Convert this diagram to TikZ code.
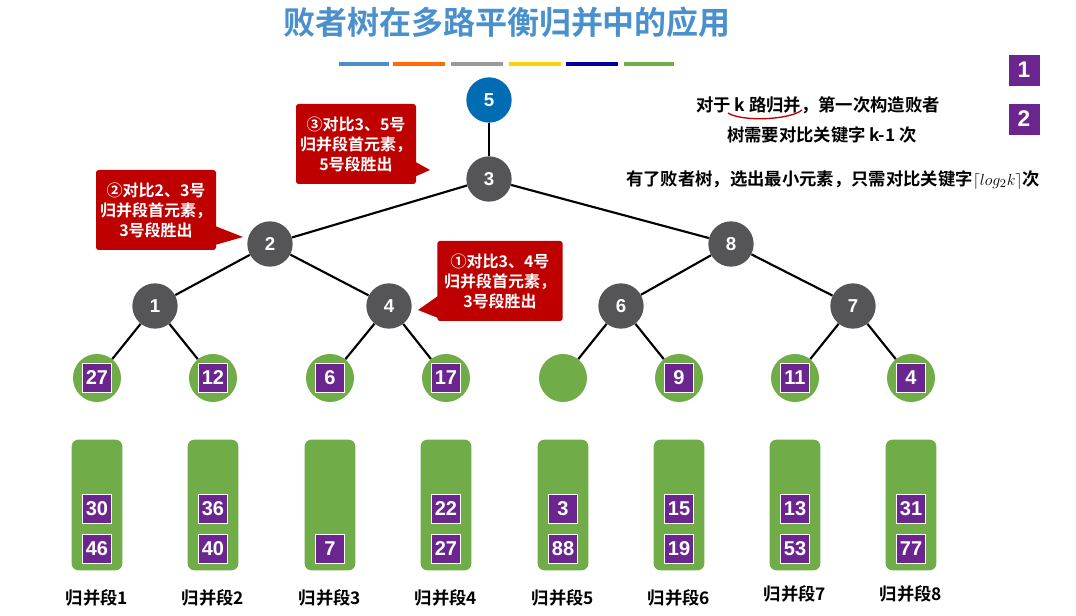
\documentclass[tikz,border=0pt]{standalone}
\usepackage{fontspec}
\setmainfont{Liberation Sans}
\newfontfamily\cjk{Noto Sans CJK SC}[BoldFont={Noto Sans CJK SC Bold}]
\usetikzlibrary{calc}
\definecolor{ttl}{RGB}{74,144,205}
\definecolor{gnode}{RGB}{85,85,88}
\definecolor{bnode}{RGB}{0,108,180}
\definecolor{grn}{RGB}{112,172,72}
\definecolor{pur}{RGB}{106,38,142}
\definecolor{rd}{RGB}{190,0,0}
\begin{document}
\begin{tikzpicture}[x=0.75pt,y=-0.75pt,font=\cjk\bfseries,
  tn/.style={circle,fill=gnode,minimum size=34pt,inner sep=0,text=white,font=\rmfamily\bfseries\fontsize{14}{14}\selectfont},
  lf/.style={circle,fill=grn,minimum size=36pt,inner sep=0},
  sq/.style={fill=pur,draw=white,line width=0.5pt,minimum size=22pt,inner sep=0,text=white,font=\rmfamily\bfseries\fontsize{15}{15}\selectfont},
  seg/.style={fill=grn,rounded corners=5pt,minimum width=38pt,minimum height=98pt,inner sep=0},
  ed/.style={line width=1.6pt},
  cb/.style={fill=rd,rounded corners=2pt,text=white,align=center,inner sep=3pt,font=\cjk\bfseries\fontsize{12}{15}\selectfont},
  lb/.style={font=\cjk\bfseries\fontsize{13}{13}\selectfont}]
\useasboundingbox (0,0) rectangle (1076,616);
\fill[white] (0,0) rectangle (1076,616);
\node[text=ttl,font=\cjk\bfseries\fontsize{24}{24}\selectfont] (title) at (507,22) {败者树在多路平衡归并中的应用};
\foreach \a/\b/\c in {339/389/ttl,393/445/orange!85!red,451/503/gray!80,509/561/yellow!70!orange,566/618/blue!60!black,624/674/grn}
  \fill[\c] (\a,62) rectangle (\b,66);
% tree
\node[tn,fill=bnode] (r) at (489,100) {5};
\node[tn] (n3) at (489,179) {3};
\node[tn] (n2) at (270,244) {2};
\node[tn] (n8) at (731,244) {8};
\node[tn] (n1) at (155,306) {1};
\node[tn] (n4) at (389,306) {4};
\node[tn] (n6) at (621,306) {6};
\node[tn] (n7) at (853,306) {7};
\foreach \i/\x in {1/97,2/213,3/330,4/446,5/563,6/679,7/795,8/911}{
  \node[lf] (l\i) at (\x,378) {};
  \node[seg] (s\i) at (\x,505) {};
}
\draw[ed] (r)--(n3); \draw[ed] (n3)--(n2); \draw[ed] (n3)--(n8);
\draw[ed] (n2)--(n1); \draw[ed] (n2)--(n4); \draw[ed] (n8)--(n6); \draw[ed] (n8)--(n7);
\draw[ed] (n1)--(l1); \draw[ed] (n1)--(l2); \draw[ed] (n4)--(l3); \draw[ed] (n4)--(l4);
\draw[ed] (n6)--(l5); \draw[ed] (n6)--(l6); \draw[ed] (n7)--(l7); \draw[ed] (n7)--(l8);
\foreach \i/\v in {1/27,2/12,3/6,4/17,6/9,7/11,8/4}
  \node[sq] (q\i) at (l\i) {\v};
% segment contents
\foreach \i/\x/\a/\b in {1/97/30/46,2/213/36/40,4/446/22/27,5/563/3/88,6/679/15/19,7/795/13/53,8/911/31/77}{
  \node[sq] (sa\i) at (\x,509) {\a};
  \node[sq] (sb\i) at (\x,549) {\b};
}
\node[sq] (sb3) at (330,549) {7};
\foreach \i/\x/\y in {1/97/598,2/213/598,3/330/598,4/446/598,5/563/598,6/679/598,7/795/594,8/911/594}
  \node[lb] (t\i) at (\x,\y) {归并段\i};
% callouts
\node[cb,minimum width=84pt,minimum height=60pt] (c3) at (356,144) {③对比3、5号\\归并段首元素，\\5号段胜出};
\fill[rd] (412,160) -- (430,170) -- (412,178) -- cycle;
\node[cb,minimum width=88pt,minimum height=60pt] (c2) at (156,210) {②对比2、3号\\归并段首元素，\\3号段胜出};
\fill[rd] (215,226) -- (243,237) -- (215,245) -- cycle;
\node[cb,minimum width=94pt,minimum height=60pt] (c1) at (500,281) {①对比3、4号\\归并段首元素，\\3号段胜出};
\fill[rd] (438,296) -- (418,310) -- (438,318) -- cycle;
% right text
\node[font=\cjk\bfseries\fontsize{13}{13}\selectfont] (tx1) at (818,105) {对于 k 路归并，第一次构造败者};
\node[font=\cjk\bfseries\fontsize{13}{13}\selectfont] (tx2) at (822,135) {树需要对比关键字 k-1 次};
\draw[rd,line width=1pt] (728,113) .. controls (742,122) and (790,120) .. (802,110);
\node[font=\cjk\bfseries\fontsize{13}{13}\selectfont] (tx3) at (833,180) {有了败者树，选出最小元素，只需对比关键字$\lceil log_2k\rceil$次};
\node[sq,minimum size=24pt,font=\rmfamily\bfseries\fontsize{17}{17}\selectfont] (k1) at (1024,70) {1};
\node[sq,minimum size=24pt,font=\rmfamily\bfseries\fontsize{17}{17}\selectfont] (k2) at (1024,119) {2};
\end{tikzpicture}
\end{document}
